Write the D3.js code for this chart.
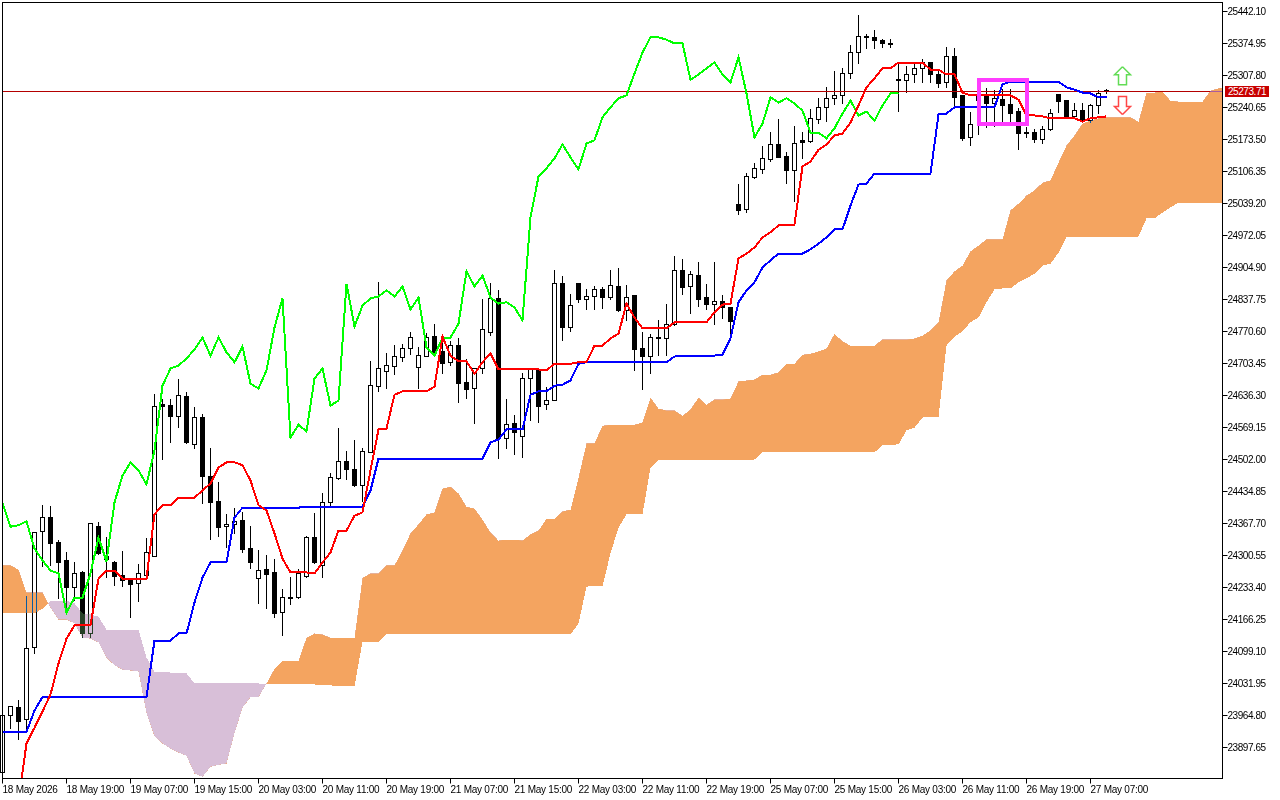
<!DOCTYPE html>
<html>
<head>
<meta charset="utf-8">
<style>
  body { margin: 0; background: #fff; overflow: hidden; }
  svg { display: block; background: #fff; }
  text { font-family: "Liberation Sans", sans-serif; font-size: 10px; letter-spacing: -0.25px; fill: #000; }
</style>
</head>
<body>
<svg id="chart" width="1280" height="800"></svg>
<script src="https://cdn.jsdelivr.net/npm/d3@7"></script>
<script>
const open = [
  23845,23964,23981,23956,24107,24351,24380,24328,24290,24233,
  24265,24137,24361,24298,24286,24258,24252,24242,24258,24298,
  24617,24615,24592,24634,24534,24590,24467,24414,24361,24366,
  24374,24315,24252,24271,24265,24181,24212,24212,24256,24338,
  24279,24412,24462,24498,24481,24448,24517,24655,24687,24697,
  24716,24735,24695,24718,24760,24729,24706,24741,24664,24651,
  24693,24769,24840,24546,24577,24550,24672,24691,24617,24626,
  24871,24779,24871,24838,24844,24859,24842,24865,24815,24846,
  24735,24718,24758,24756,24785,24899,24865,24888,24842,24827,
  24834,24821,25037,25027,25094,25111,25132,25163,25138,25109,
  25172,25169,25216,25241,25260,25266,25312,25356,25390,25388,
  25381,25375,25299,25297,25310,25323,25335,25310,25293,25348,
  25266,25178,25264,25264,25249,25257,25247,25232,25188,25188,
  25174,25194,25268,25255,25222,25234,25213,25245,25276];
const high = [
  23986,23983,23998,24217,24351,24408,24406,24334,24309,24288,
  24269,24368,24372,24340,24290,24311,24252,24284,24338,24641,
  24630,24630,24672,24645,24613,24599,24527,24456,24389,24401,
  24393,24364,24313,24303,24294,24231,24256,24273,24342,24391,
  24433,24475,24569,24521,24544,24527,24710,24876,24727,24743,
  24745,24771,24739,24769,24787,24758,24752,24758,24714,24695,
  24840,24874,24859,24630,24596,24685,24695,24695,24655,24901,
  24888,24850,24871,24861,24867,24865,24901,24905,24869,24846,
  24771,24766,24796,24829,24930,24924,24899,24918,24871,24918,
  24848,24823,25081,25104,25125,25161,25190,25218,25148,25203,
  25190,25239,25262,25285,25318,25325,25373,25436,25396,25404,
  25385,25385,25335,25329,25333,25343,25337,25323,25369,25367,
  25266,25232,25272,25283,25278,25281,25281,25241,25201,25197,
  25203,25239,25270,25257,25251,25251,25249,25278,25281];
const low = [
  23832,23937,23914,23937,24095,24277,24279,24210,24179,24206,
  24128,24128,24303,24254,24237,24235,24170,24204,24252,24298,
  24502,24538,24569,24536,24525,24410,24334,24340,24317,24347,
  24307,24273,24200,24189,24170,24132,24198,24210,24254,24284,
  24254,24401,24460,24460,24445,24414,24517,24645,24651,24680,
  24708,24722,24651,24718,24720,24682,24699,24622,24630,24577,
  24682,24762,24504,24525,24513,24506,24584,24580,24607,24626,
  24752,24771,24832,24817,24817,24819,24838,24813,24794,24689,
  24649,24682,24720,24720,24783,24848,24809,24823,24817,24785,
  24798,24766,25016,25020,25092,25102,25128,25136,25081,25043,
  25134,25167,25207,25211,25247,25249,25302,25333,25365,25365,
  25367,25367,25232,25272,25293,25293,25293,25283,25283,25243,
  25172,25161,25184,25199,25201,25209,25209,25153,25178,25167,
  25165,25193,25230,25218,25218,25209,25209,25228,25270];
const close = [
  23964,23983,23952,24105,24349,24380,24326,24286,24233,24263,
  24137,24368,24305,24292,24256,24248,24240,24263,24307,24613,
  24613,24592,24636,24538,24590,24467,24412,24359,24366,24372,
  24313,24286,24269,24260,24179,24212,24210,24263,24338,24286,
  24412,24464,24498,24481,24448,24519,24657,24693,24699,24718,
  24735,24758,24720,24758,24727,24703,24741,24661,24649,24693,
  24775,24840,24546,24575,24559,24672,24693,24613,24626,24871,
  24779,24825,24838,24844,24859,24842,24867,24815,24842,24733,
  24718,24758,24756,24785,24899,24863,24890,24838,24827,24834,
  24821,24792,25025,25096,25113,25134,25163,25136,25109,25165,
  25167,25218,25241,25260,25266,25312,25356,25390,25388,25381,
  25375,25373,25297,25310,25323,25335,25310,25291,25348,25262,
  25176,25205,25255,25249,25260,25245,25228,25186,25186,25174,
  25194,25228,25253,25222,25234,25213,25245,25270,25273.71];

// ichimoku lines
const tenkan = [
  null,null,23787,23906,23939,23973,24009,24074,24126,24154,
  24154,24154,24252,24269,24269,24252,24252,24252,24252,24387,
  24406,24406,24422,24422,24422,24437,24452,24485,24496,24496,
  24490,24458,24406,24395,24347,24294,24265,24265,24265,24263,
  24286,24307,24353,24353,24384,24391,24479,24565,24567,24638,
  24645,24645,24645,24645,24655,24760,24720,24708,24708,24682,
  24706,24725,24691,24691,24691,24691,24691,24691,24689,24703,
  24703,24703,24706,24706,24741,24741,24756,24766,24829,24800,
  24777,24777,24777,24777,24790,24790,24790,24790,24790,24811,
  24827,24829,24924,24934,24947,24968,24979,24993,24995,24995,
  25117,25127,25152,25163,25182,25186,25209,25245,25283,25302,
  25323,25323,25335,25335,25335,25335,25320,25320,25310,25310,
  25272,25266,25266,25266,25266,25266,25266,25257,25224,25224,
  25222,25218,25218,25218,25218,25211,25218,25220,25222];
const kijun = [
  23931,23931,23931,23931,23975,24004,24004,24004,24004,24004,
  24004,24004,24004,24004,24004,24004,24004,24004,24004,24122,
  24122,24122,24137,24137,24202,24254,24286,24286,24286,24380,
  24401,24401,24401,24401,24401,24401,24401,24401,24403,24403,
  24403,24403,24403,24403,24403,24403,24437,24504,24504,24504,
  24504,24504,24504,24504,24504,24504,24504,24504,24504,24504,
  24504,24538,24544,24565,24565,24565,24638,24645,24645,24657,
  24659,24668,24703,24706,24706,24706,24706,24706,24706,24706,
  24706,24706,24706,24706,24718,24720,24720,24720,24720,24720,
  24722,24756,24832,24857,24874,24905,24920,24934,24934,24934,
  24934,24943,24955,24968,24985,24985,25035,25079,25081,25102,
  25102,25102,25102,25102,25102,25102,25102,25226,25228,25241,
  25241,25241,25241,25241,25241,25289,25295,25295,25295,25295,
  25295,25295,25295,25283,25278,25272,25270,25262,25262];
const chikou = [
  24410,24361,24364,24372,24315,24290,24269,24263,24181,24212,
  24212,24263,24338,24288,24412,24468,24496,24479,24450,24521,
  24657,24693,24699,24714,24733,24758,24720,24758,24727,24706,
  24739,24661,24651,24689,24779,24840,24548,24575,24561,24672,
  24693,24615,24626,24871,24781,24825,24840,24844,24857,24844,
  24865,24817,24842,24737,24720,24758,24758,24787,24897,24865,
  24888,24842,24829,24832,24821,24794,25010,25096,25113,25134,
  25163,25136,25111,25165,25172,25220,25241,25260,25266,25312,
  25356,25388,25388,25383,25375,25375,25299,25310,25323,25335,
  25310,25293,25346,25270,25178,25207,25262,25251,25260,25249,
  25234,25188,25188,25176,25197,25228,25255,25224,25232,25213,
  25245,25270,25272];
const senkouA = [
  24280,24280,24271,24223,24223,24223,24191,24166,24166,24158,
  24128,24126,24118,24086,24070,24061,24059,24057,23969,23921,
  23906,23895,23887,23880,23843,23836,23857,23861,23864,23927,
  23981,24003,24003,24032,24063,24080,24080,24080,24128,24137,
  24135,24128,24128,24128,24128,24254,24263,24263,24280,24280,
  24311,24347,24366,24387,24391,24441,24445,24431,24403,24399,
  24376,24349,24332,24334,24334,24332,24345,24353,24378,24378,
  24393,24397,24464,24536,24536,24573,24575,24575,24575,24575,
  24580,24632,24609,24605,24605,24594,24607,24632,24617,24628,
  24628,24630,24666,24668,24670,24680,24680,24685,24703,24703,
  24722,24724,24729,24735,24766,24750,24741,24741,24741,24741,
  24754,24754,24754,24754,24756,24762,24773,24790,24878,24897,
  24909,24939,24951,24964,24964,24964,25025,25039,25056,25067,
  25083,25088,25125,25161,25182,25207,25213,25218,25220,25220,
  25220,25220,25211,25272,25272,25274,25255,25253,25253,25253,
  25253,25276,25281,25283];
const senkouB = [
  24179,24179,24179,24179,24179,24189,24206,24206,24206,24200,
  24179,24177,24172,24145,24145,24145,24145,24145,24086,24057,
  24057,24055,24055,24053,24032,24032,24032,24032,24032,24032,
  24032,24032,24032,24030,24030,24030,24030,24030,24030,24030,
  24028,24028,24026,24026,24026,24120,24120,24120,24135,24135,
  24135,24135,24135,24135,24135,24135,24135,24135,24135,24135,
  24135,24135,24135,24135,24135,24135,24135,24135,24135,24135,
  24135,24135,24158,24235,24237,24237,24305,24359,24387,24387,
  24387,24485,24502,24502,24502,24502,24502,24502,24502,24502,
  24502,24502,24502,24502,24502,24517,24517,24517,24517,24517,
  24517,24517,24517,24517,24517,24517,24517,24517,24517,24517,
  24532,24532,24534,24563,24569,24590,24592,24592,24741,24760,
  24771,24790,24800,24832,24859,24861,24861,24874,24882,24892,
  24909,24913,24936,24968,24968,24968,24968,24968,24968,24968,
  24968,24968,24970,25008,25008,25020,25031,25041,25041,25041,
  25041,25041,25041,25041];

const priceTicks = [
  25442.10,25374.95,25307.80,25240.65,25173.50,25106.35,25039.20,24972.05,
  24904.90,24837.75,24770.60,24703.45,24636.30,24569.15,24502.00,24434.85,
  24367.70,24300.55,24233.40,24166.25,24099.10,24031.95,23964.80,23897.65];
const timeLabels = [
  "18 May 2026","18 May 19:00","19 May 07:00","19 May 15:00","20 May 03:00","20 May 11:00",
  "20 May 19:00","21 May 07:00","21 May 15:00","22 May 03:00","22 May 11:00","22 May 19:00",
  "25 May 07:00","25 May 15:00","26 May 03:00","26 May 11:00","26 May 19:00","27 May 07:00"];
const barsPerLabel = 8;
const lastPrice = 25273.71;
const boxBars = [122, 128];
const boxPrices = [25299, 25205];
const arrowBar = 140;
const arrowUpPrice = 25326;
const arrowDownPrice = 25226;

const plot = { left: 2.5, right: 1222.5, top: 2.5, bottom: 778.5 };

const svg = d3.select('#chart');
const x = d3.scaleLinear().domain([0, 152]).range([2.5, 1218.5]);
const y = d3.scaleLinear().domain([25442.10, 23897.65]).range([11.5, 747.5]);
const snap = v => Math.round(v - 0.5) + 0.5;

svg.append('rect').attr('width', 1280).attr('height', 800).attr('fill', '#fff');

// candles
const bars = d3.range(open.length);
svg.append('g').selectAll('line').data(bars).enter().append('line')
    .attr('x1', x).attr('x2', x)
    .attr('y1', i => snap(y(high[i])))
    .attr('y2', i => snap(y(low[i])))
    .attr('stroke', '#000')
    .attr('shape-rendering', 'crispEdges');
svg.append('g').selectAll('rect').data(bars).enter().append('rect')
    .attr('x', i => x(i) - 2)
    .attr('width', 4)
    .attr('y', i => snap(y(Math.max(open[i], close[i]))))
    .attr('height', i => Math.max(1, snap(y(Math.min(open[i], close[i]))) - snap(y(Math.max(open[i], close[i])))))
    .attr('fill', i => close[i] >= open[i] ? '#fff' : '#000')
    .attr('stroke', '#000')
    .attr('shape-rendering', 'crispEdges');

svg.append('line')
    .attr('x1', plot.left).attr('x2', plot.right)
    .attr('y1', snap(y(lastPrice))).attr('y2', snap(y(lastPrice)))
    .attr('stroke', '#b40000')
    .attr('shape-rendering', 'crispEdges');

// cloud: colours are the inverse of the visible ones, blended so black candles show through
const cloudIdx = d3.range(senkouA.length);
const defs = svg.append('defs');
defs.append('clipPath').attr('id', 'belowA').append('path')
    .attr('d', d3.area().x(x).y0(plot.bottom).y1(i => y(senkouA[i]))(cloudIdx));
defs.append('clipPath').attr('id', 'aboveA').append('path')
    .attr('d', d3.area().x(x).y0(plot.top).y1(i => y(senkouA[i]))(cloudIdx));
const cloudArea = d3.area().x(x).y0(i => y(senkouA[i])).y1(i => y(senkouB[i]));
svg.append('path')
    .attr('d', cloudArea(cloudIdx))
    .attr('clip-path', 'url(#belowA)')
    .attr('fill', '#0b5b9f')
    .attr('shape-rendering', 'crispEdges')
    .style('mix-blend-mode', 'difference');
svg.append('path')
    .attr('d', cloudArea(cloudIdx))
    .attr('clip-path', 'url(#aboveA)')
    .attr('fill', '#274027')
    .attr('shape-rendering', 'crispEdges')
    .style('mix-blend-mode', 'difference');

const line = d3.line().defined(d => d != null).x((d, i) => x(i)).y(d => y(d));
[[chikou, '#00ff00'], [kijun, '#0000ff'], [tenkan, '#ff0000']].forEach(([series, color]) => {
    svg.append('path')
        .attr('d', line(series))
        .attr('fill', 'none')
        .attr('stroke', color)
        .attr('stroke-width', 2)
        .attr('shape-rendering', 'crispEdges');
});

svg.append('rect')
    .attr('x', x(boxBars[0])).attr('width', x(boxBars[1]) - x(boxBars[0]))
    .attr('y', y(boxPrices[0])).attr('height', y(boxPrices[1]) - y(boxPrices[0]))
    .attr('fill', 'none')
    .attr('stroke', '#ff3cff')
    .attr('stroke-width', 4)
    .attr('shape-rendering', 'crispEdges');

// signal arrows
const arrowShape = [[0,0],[8,8],[4,8],[4,18],[-4,18],[-4,8],[-8,8],[0,0]];
svg.append('path')
    .attr('transform', `translate(${x(arrowBar)},${y(arrowUpPrice)})`)
    .attr('d', d3.line()(arrowShape))
    .attr('fill', '#fff').attr('stroke', '#62dc55').attr('stroke-width', 1.5);
svg.append('path')
    .attr('transform', `translate(${x(arrowBar)},${y(arrowDownPrice)}) scale(1,-1)`)
    .attr('d', d3.line()(arrowShape))
    .attr('fill', '#fff').attr('stroke', '#ff4646').attr('stroke-width', 1.5);

// anything past the plot edge gets covered by the gutters
svg.append('rect').attr('x', plot.right).attr('y', 0).attr('width', 1280 - plot.right).attr('height', 800).attr('fill', '#fff');
svg.append('rect').attr('x', 0).attr('y', plot.bottom).attr('width', 1280).attr('height', 800 - plot.bottom).attr('fill', '#fff');
svg.append('rect')
    .attr('x', plot.left).attr('y', plot.top)
    .attr('width', plot.right - plot.left).attr('height', plot.bottom - plot.top)
    .attr('fill', 'none').attr('stroke', '#000')
    .attr('shape-rendering', 'crispEdges');

const yAxis = svg.append('g')
    .attr('transform', `translate(${plot.right},0)`)
    .call(d3.axisRight(y).tickValues(priceTicks).tickSize(5).tickPadding(0).offset(0).tickFormat(d => d.toFixed(2)));
yAxis.select('.domain').remove();
yAxis.selectAll('text').style('letter-spacing', '-0.45px');

const xAxis = svg.append('g')
    .attr('transform', `translate(0,${plot.bottom})`)
    .call(d3.axisBottom(x)
        .tickValues(timeLabels.map((d, i) => i * barsPerLabel))
        .tickSize(5).tickPadding(2).offset(0)
        .tickFormat((d, i) => timeLabels[i]));
xAxis.select('.domain').remove();
xAxis.selectAll('text').attr('text-anchor', 'start');

svg.append('rect')
    .attr('x', 1225).attr('y', snap(y(lastPrice)) - 5.5)
    .attr('width', 44).attr('height', 11)
    .attr('fill', '#c80000');
svg.append('text')
    .attr('x', 1228).attr('y', snap(y(lastPrice)) + 3.5)
    .style('letter-spacing', '-0.45px').style('fill', '#fff')
    .text(lastPrice.toFixed(2));
</script>
</body>
</html>
